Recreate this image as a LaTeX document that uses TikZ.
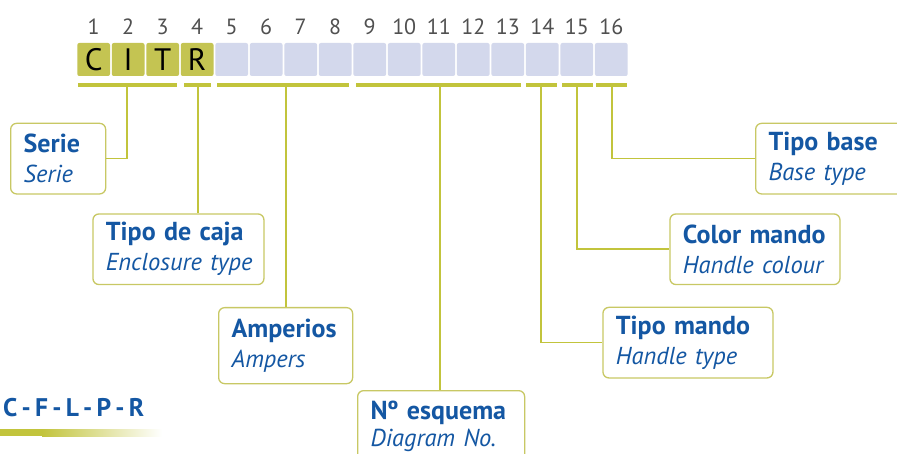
\documentclass[tikz,border=0pt]{standalone}
\usepackage{fontspec}
\setmainfont{PT Sans}
\definecolor{cellolive}{HTML}{C4C452}
\definecolor{barolive}{HTML}{C2C43C}
\definecolor{boxline}{HTML}{C8C864}
\definecolor{lav}{HTML}{D3D8EC}
\definecolor{txtblue}{HTML}{1457A3}
\definecolor{numgray}{HTML}{505050}
\newcommand{\lblhead}[1]{{\bfseries\fontsize{26}{30}\selectfont #1}}
\newcommand{\lblsub}[1]{{\itshape\fontsize{24.5}{30}\selectfont #1}}
\tikzset{
  x=1pt, y=-1pt,
  cell/.style={fill=lav, rounded corners=2pt, minimum width=32.7pt, minimum height=33pt, inner sep=0pt,
    font=\fontsize{31}{32}\selectfont, text=black},
  olivecell/.style={cell, fill=cellolive},
  num/.style={font=\fontsize{22}{23}\selectfont, text=numgray, inner sep=0pt},
  bar/.style={fill=barolive, minimum height=4pt, inner sep=0pt},
  lbl/.style={draw=boxline, line width=1.3pt, rounded corners=6pt, fill=white, inner xsep=13pt, inner ysep=0pt,
    minimum height=70.6pt, align=left, font=\fontsize{25}{30}\selectfont, text=txtblue, anchor=north west},
  conn/.style={draw=barolive, line width=1.7pt}
}
\begin{document}
\begin{tikzpicture}
\useasboundingbox[fill=white] (0,0) rectangle (897,454);
% cells
\foreach \i/\t in {1/C,2/I,3/T,4/R}
  \node[olivecell] (c\i) at ({93.65+(\i-1)*34.51}, 59.5) {\t};
\foreach \i in {5,...,16}
  \node[cell] (c\i) at ({93.65+(\i-1)*34.51}, 59.5) {};
\foreach \i in {1,...,16}
  \node[num] (n\i) at ({93.65+(\i-1)*34.51}, 26.5) {\i};
% bars
\node[bar, minimum width=99pt] (b1) at (127.2,85) {};
\node[bar, minimum width=26.7pt] (b2) at (197.4,85) {};
\node[bar, minimum width=132pt] (b3) at (282.7,85) {};
\node[bar, minimum width=165pt] (b4) at (438.5,85) {};
\node[bar, minimum width=31pt] (b5) at (541.2,85) {};
\node[bar, minimum width=30.7pt] (b6) at (577.3,85) {};
\node[bar, minimum width=31.3pt] (b7) at (611.7,85) {};
% label boxes
\node[lbl, text width=69pt] (serie) at (10,122.7) {\lblhead{Serie}\\\lblsub{Serie}};
\node[lbl, text width=145pt] (caja) at (92.3,213.3) {\lblhead{Tipo~de~caja}\\\lblsub{Enclosure~type}};
\node[lbl, text width=108pt, minimum height=76pt] (amp) at (218,307) {\lblhead{Amperios}\\\lblsub{Ampers}};
\node[lbl, text width=141pt, minimum height=72pt] (esq) at (357,390) {\lblhead{Nº~esquema}\\[-3pt]\lblsub{Diagram~No.}};
\node[lbl, text width=144pt] (tmando) at (602.3,306.7) {\lblhead{Tipo~mando}\\\lblsub{Handle~type}};
\node[lbl, text width=144pt] (cmando) at (669.3,213.3) {\lblhead{Color~mando}\\\lblsub{Handle~colour}};
\node[lbl, text width=144pt] (tbase) at (755,122.7) {\lblhead{Tipo~base}\\\lblsub{Base~type}};
% connectors
\draw[conn] (b1.south) |- (serie.east);
\draw[conn] ([xshift=0.3pt]b2.south) -- ([xshift=0.3pt]b2.south |- caja.north);
\draw[conn] ([xshift=3pt]b3.south) -- ([xshift=3pt]b3.south |- amp.north);
\draw[conn] ([xshift=1.5pt]b4.south) -- ([xshift=1.5pt]b4.south |- esq.north);
\draw[conn] (b5.south) |- (tmando.west);
\draw[conn] (b6.south) |- (cmando.west);
\draw[conn] (b7.south) |- (tbase.west);
% series legend
\node[anchor=west, inner sep=0pt, font=\bfseries\fontsize{25.5}{26}\selectfont, text=txtblue] (series) at (3,408) {C\,-\,F\,-\,L\,-\,P\,-\,R};
\fill[barolive] (0,428.6) rectangle (42,436.4);
\shade[left color=barolive, right color=white] (42,429.4) rectangle (162,436.4);
\end{tikzpicture}
\end{document}
